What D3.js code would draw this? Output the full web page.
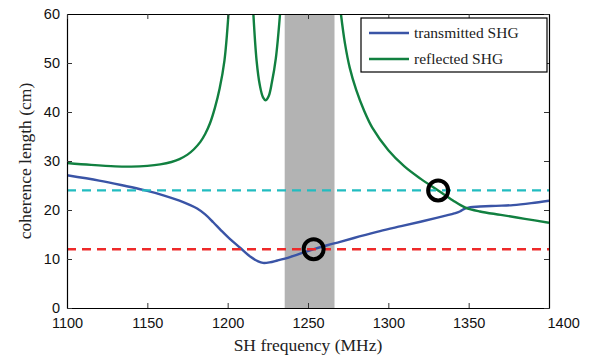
<!DOCTYPE html>
<html><head><meta charset="utf-8">
<script src="https://cdn.jsdelivr.net/npm/d3@7"></script>
<style>body{margin:0;background:#fff}</style>
</head><body><svg id="c" width="597" height="360"></svg>
<script>
const xTicks = [1100, 1150, 1200, 1250, 1300, 1350, 1400];
const yTicks = [0, 10, 20, 30, 40, 50, 60];
const seriesNames = ["transmitted SHG", "reflected SHG"];

const transFreq = [1100, 1120, 1135, 1147.5, 1160, 1170, 1176, 1181, 1186, 1191, 1196, 1201, 1207.7, 1214, 1219, 1222, 1226, 1231, 1238.8, 1246, 1253.7, 1262, 1270, 1282, 1294.8, 1308, 1320, 1330, 1336.3, 1341, 1344.5, 1347.7, 1351, 1357, 1367, 1377.6, 1389, 1400];
const transVal  = [27.1, 26.0, 25.0, 24.1, 23.0, 21.9, 21.1, 20.3, 19.1, 17.5, 15.8, 14.2, 12.3, 10.5, 9.5, 9.2, 9.3, 9.7, 10.4, 11.2, 12.0, 12.8, 13.5, 14.6, 15.7, 16.7, 17.6, 18.4, 18.9, 19.3, 19.7, 20.3, 20.6, 20.7, 20.85, 21.0, 21.4, 21.9];

const reflFreq = [1100, 1115, 1130, 1140, 1150, 1158, 1165, 1170, 1175, 1179, 1183, 1186, 1189, 1192, 1195, 1198, 1200.5, 1208,
                  1216, 1218, 1220, 1222, 1223.7, 1225.5, 1227.5, 1230, 1232.6, 1250,
                  1270.5, 1273, 1276, 1280, 1285, 1290, 1300, 1310, 1320, 1331, 1340, 1348, 1357, 1370, 1385, 1400];
const reflVal  = [29.6, 29.2, 28.9, 28.85, 29.0, 29.3, 29.8, 30.4, 31.3, 32.4, 33.9, 35.5, 37.7, 40.8, 44.8, 50.5, 60, null,
                  60, 50.5, 45.5, 43.0, 42.4, 43.2, 46.0, 51.0, 60, null,
                  60, 54, 49, 44.5, 40.2, 36.8, 32.2, 28.9, 26.4, 24.0, 22.0, 20.5, 19.7, 19.0, 18.2, 17.4];

const bandRange = [1235.5, 1266.5];
const thresholdVals = [24, 12];
const thresholdColors = ["#22bcc0", "#ee2a2a"];
const markerFreq = [1253.5, 1331];
const markerVal = [12, 24];

const SERIF = "'Liberation Serif', 'DejaVu Serif', serif";
const SANS = "'Liberation Sans', Arial, sans-serif";

const W = 597, H = 360;
const m = {l: 67, r: 48, t: 14, b: 52};
const svg = d3.select("#c");
const x = d3.scaleLinear().domain([1100, 1400]).range([m.l, W - m.r]);
const y = d3.scaleLinear().domain([0, 60]).range([H - m.b, m.t]);

svg.append("defs").append("clipPath").attr("id", "clip")
  .append("rect").attr("x", m.l).attr("y", m.t).attr("width", W - m.l - m.r).attr("height", H - m.t - m.b);

const plot = svg.append("g").attr("clip-path", "url(#clip)");

plot.append("rect")
  .attr("x", x(bandRange[0])).attr("width", x(bandRange[1]) - x(bandRange[0]))
  .attr("y", m.t).attr("height", H - m.t - m.b).attr("fill", "#b3b3b3");

const line = d3.line().defined(d => d[1] !== null).x(d => x(d[0])).y(d => y(d[1])).curve(d3.curveCatmullRom.alpha(0.5));

plot.append("path").datum(transFreq.map((f, i) => [f, transVal[i]]))
  .attr("d", line).attr("fill", "none").attr("stroke", "#3a54a6").attr("stroke-width", 2.4);
plot.append("path").datum(reflFreq.map((f, i) => [f, reflVal[i]]))
  .attr("d", line).attr("fill", "none").attr("stroke", "#118040").attr("stroke-width", 2.4);

thresholdVals.forEach((v, i) => {
  plot.append("line").attr("x1", m.l).attr("x2", W - m.r).attr("y1", y(v)).attr("y2", y(v))
    .attr("stroke", thresholdColors[i]).attr("stroke-width", 2.4).attr("stroke-dasharray", "9,6");
});

markerFreq.forEach((f, i) => {
  plot.append("circle").attr("cx", x(f)).attr("cy", y(markerVal[i])).attr("r", 10)
    .attr("fill", "none").attr("stroke", "#000").attr("stroke-width", 4);
});

// axes
const fmt = d3.format("d");
const gx = svg.append("g").attr("transform", `translate(0,${H - m.b})`)
  .call(d3.axisBottom(x).tickValues(xTicks).tickSizeInner(-5).tickSizeOuter(0).tickPadding(10).tickFormat(fmt));
const gy = svg.append("g").attr("transform", `translate(${m.l},0)`)
  .call(d3.axisLeft(y).tickValues(yTicks).tickSizeInner(-5).tickSizeOuter(0).tickPadding(7).tickFormat(fmt));
const gt = svg.append("g").attr("transform", `translate(0,${m.t})`)
  .call(d3.axisTop(x).tickValues(xTicks).tickSizeInner(-5).tickSizeOuter(0).tickFormat(""));
const gr = svg.append("g").attr("transform", `translate(${W - m.r},0)`)
  .call(d3.axisRight(y).tickValues(yTicks).tickSizeInner(-5).tickSizeOuter(0).tickFormat(""));
[gx, gy, gt, gr].forEach(g => {
  g.select(".domain").attr("stroke", "#000").attr("stroke-width", 1.2);
  g.selectAll(".tick line").attr("stroke", "#333");
  g.selectAll("text").attr("font-family", SANS).attr("font-size", 14.5).attr("fill", "#111");
});
gx.selectAll(".tick").filter(d => d === 1400).select("text").attr("text-anchor", "start").attr("dx", -2);

svg.append("text").attr("x", (m.l + W - m.r) / 2).attr("y", 351).attr("text-anchor", "middle")
  .attr("font-family", SERIF).attr("font-size", 17.5).attr("fill", "#222")
  .text("SH frequency (MHz)");
svg.append("text").attr("transform", `translate(31,${(m.t + H - m.b) / 2}) rotate(-90)`).attr("text-anchor", "middle")
  .attr("font-family", SERIF).attr("font-size", 17.5).attr("fill", "#222")
  .text("coherence length (cm)");

// legend
const lg = svg.append("g");
lg.append("rect").attr("x", 361).attr("y", 18).attr("width", 186).attr("height", 54)
  .attr("fill", "#fff").attr("stroke", "#000").attr("stroke-width", 1.2);
const legColors = ["#3a54a6", "#118040"];
seriesNames.forEach((n, i) => {
  const yy = 33 + i * 26;
  lg.append("line").attr("x1", 369).attr("x2", 409).attr("y1", yy).attr("y2", yy)
    .attr("stroke", legColors[i]).attr("stroke-width", 2.4);
  lg.append("text").attr("x", 414).attr("y", yy + 5)
    .attr("font-family", SERIF).attr("font-size", 15.5).attr("fill", "#222").text(n);
});
</script></body></html>
